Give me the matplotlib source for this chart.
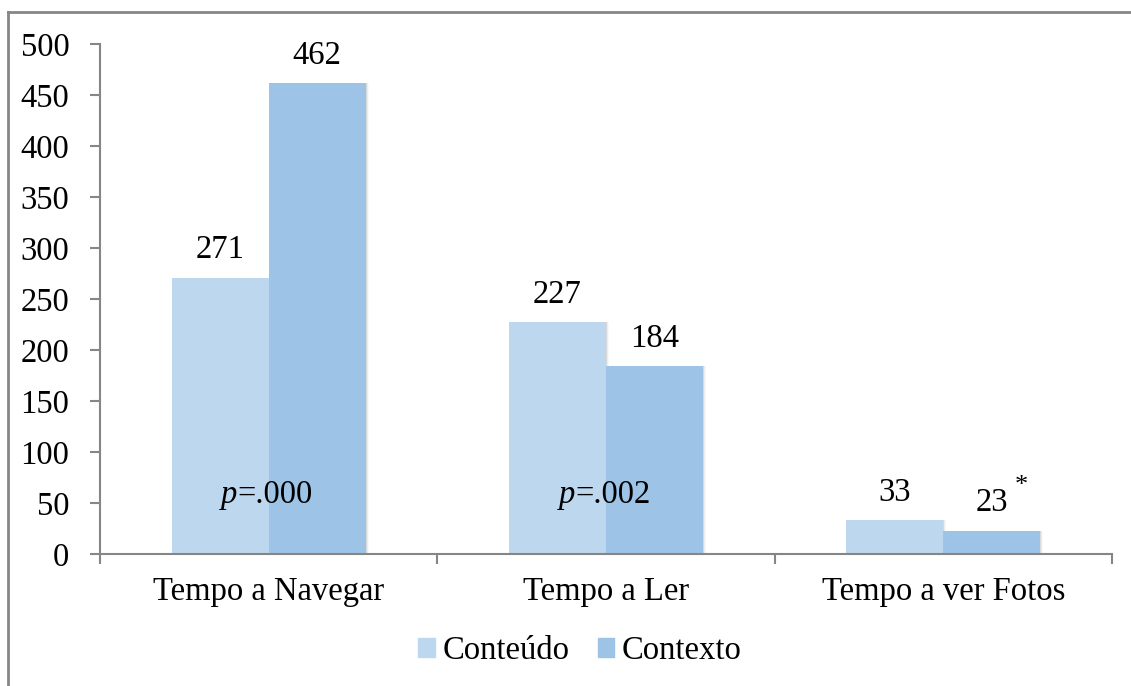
import matplotlib
matplotlib.use("Agg")
import matplotlib.pyplot as plt
from matplotlib.patches import Rectangle
from matplotlib.lines import Line2D
import numpy as np

categories = ["Tempo a Navegar", "Tempo a Ler", "Tempo a ver Fotos"]
series_names = ["Conteúdo", "Contexto"]
conteudo = [271, 227, 33]
contexto = [462, 184, 23]
p_labels = ["=.000", "=.002", ""]
yticks = [0, 50, 100, 150, 200, 250, 300, 350, 400, 450, 500]

colors = ["#BDD7EE", "#9DC3E6"]
axis_color = "#868686"

plt.rcParams["font.family"] = ["Liberation Serif", "DejaVu Serif"]
fs = 23.5

fig = plt.figure(figsize=(11.31, 6.86), dpi=100)
ax = fig.add_axes([100 / 1131, 1 - 554 / 686, 1012 / 1131, 510 / 686])

x = np.arange(len(categories)) + 0.5
w = 0.2876

for i, (vals, col) in enumerate(zip([conteudo, contexto], colors)):
    xs = x - w / 2 + i * w
    # soft drop shadow on the right edge of each bar
    for k, a in enumerate([0.08, 0.05, 0.025]):
        ax.bar(xs + (k + 1) * 0.003, vals, width=w, color="black", alpha=a,
               linewidth=0, zorder=1)
    ax.bar(xs, vals, width=w, color=col, linewidth=0, zorder=2,
           label=series_names[i])
    for xi, v in zip(xs, vals):
        ax.text(xi, v + 12, f"{v}", ha="center", va="bottom", fontsize=fs,
                zorder=4)

# significance labels inside the first two groups
for xi, pl in zip(x, p_labels):
    if pl:
        t1 = ax.text(xi - 0.092, 58, "p", fontsize=fs, style="italic", ha="right",
                     va="center", zorder=4)
        ax.annotate(pl, xy=(1, 0.5), xycoords=t1, va="center", ha="left",
                    fontsize=fs, zorder=4)

# asterisk next to the last Contexto label
ax.annotate("*", xy=(x[2] + w / 2, contexto[2] + 12), xytext=(21, 23),
            textcoords="offset points", ha="center", va="center", fontsize=19)

ax.set_xlim(0, 3)
ax.set_ylim(0, 500)
ax.set_yticks(yticks)
ax.set_yticklabels([str(t) for t in yticks], fontsize=fs)
ax.set_xticks([0, 1, 2, 3])
ax.set_xticklabels([])
ax.set_xticks(x, minor=True)
ax.set_xticklabels(categories, minor=True, fontsize=fs)
ax.tick_params(axis="x", which="minor", length=0, pad=16)
ax.tick_params(axis="x", which="major", length=7, width=1.5, color=axis_color,
               direction="out")
ax.tick_params(axis="y", length=7, width=1.5, color=axis_color, pad=15)

for s in ["top", "right"]:
    ax.spines[s].set_visible(False)
for s in ["left", "bottom"]:
    ax.spines[s].set_color(axis_color)
    ax.spines[s].set_linewidth(1.5)

handles = [Rectangle((0, 0), 1, 1, color=c) for c in colors]
fig.legend(handles, series_names, loc="center", bbox_to_anchor=(0.513, 1 - 651 / 686),
           ncol=2, frameon=False, fontsize=fs, handlelength=0.5, handleheight=0.5,
           handletextpad=0.25, columnspacing=0.85)

# outer frame of the chart area
fig.add_artist(Line2D([8 / 1131, 1], [1 - 12 / 686, 1 - 12 / 686],
                      transform=fig.transFigure, color=axis_color, lw=2))
fig.add_artist(Line2D([8 / 1131, 8 / 1131], [0, 1 - 12 / 686],
                      transform=fig.transFigure, color=axis_color, lw=2))

fig.savefig("out.png", dpi=100)
